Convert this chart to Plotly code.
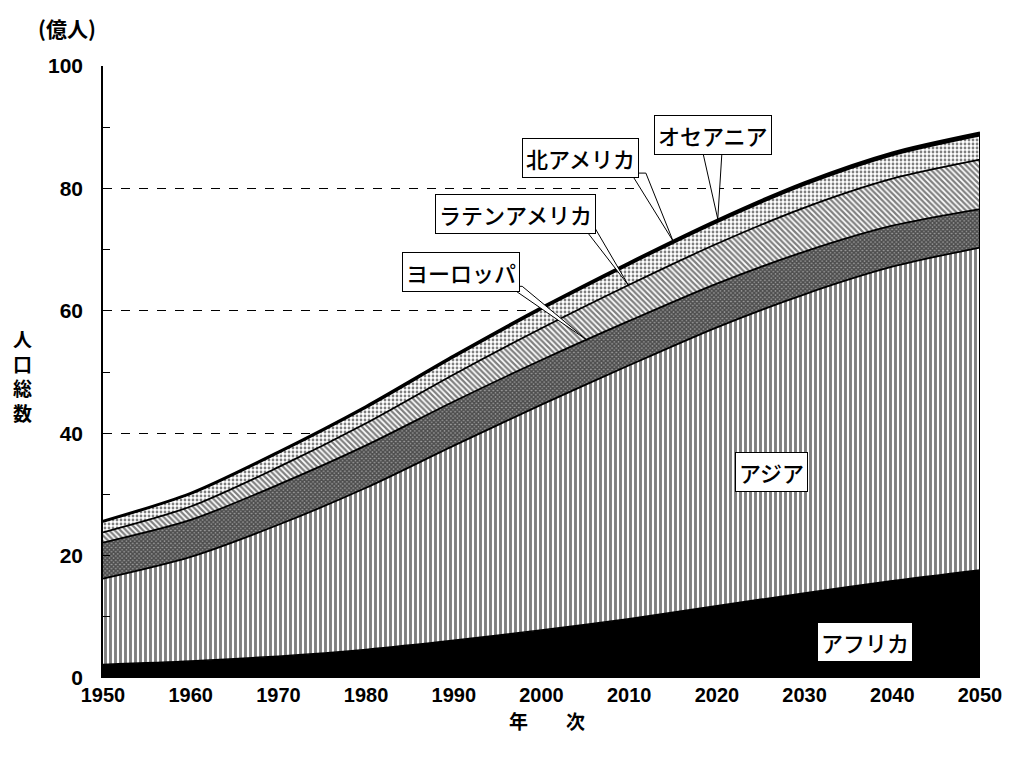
import plotly.graph_objects as go

years = [1950, 1960, 1970, 1980, 1990, 2000, 2010, 2020, 2030, 2040, 2050]
# population in 億人 (100 million)
africa = [2.21, 2.77, 3.57, 4.67, 6.15, 7.84, 9.7, 11.8, 13.9, 15.9, 17.66]
asia = [14.02, 17.02, 21.47, 26.41, 31.81, 36.83, 41.4, 45.5, 48.8, 51.3, 52.68]
europe = [5.9, 6.05, 6.56, 6.93, 7.22, 7.29, 7.25, 7.15, 6.97, 6.7, 6.28]
latin_america = [1.67, 2.18, 2.85, 3.61, 4.41, 5.19, 5.9, 6.5, 7.2, 7.7, 8.09]
north_america = [1.72, 2.04, 2.32, 2.55, 2.82, 3.10, 3.3, 3.5, 3.7, 3.8, 3.92]
oceania = [0.13, 0.16, 0.19, 0.23, 0.26, 0.30, 0.34, 0.37, 0.41, 0.44, 0.46]

y_ticks = [0, 20, 40, 60, 80, 100]
x_ticks = [1950, 1960, 1970, 1980, 1990, 2000, 2010, 2020, 2030, 2040, 2050]

JP = "Noto Sans CJK JP"
NUM = "Liberation Sans Narrow, Arial Narrow, Liberation Sans, Arial"

fig = go.Figure()

series = [
    ("アフリカ", africa, None, 1.5),
    ("アジア", asia, dict(shape="|", size=5, solidity=0.58), 1.8),
    ("ヨーロッパ", europe, dict(shape="x", size=3, solidity=0.75, bgcolor="#9a9a9a"), 1.8),
    ("ラテンアメリカ", latin_america, dict(shape="\\", size=4, solidity=0.55), 1.8),
    ("北アメリカ", north_america, dict(shape=".", size=4, solidity=0.38), 1.8),
    ("オセアニア", oceania, None, 2.5),
]
for name, vals, pat, lw in series:
    kw = dict(
        x=years, y=vals, name=name, mode="lines", stackgroup="pop",
        line=dict(color="black", width=lw, shape="spline", smoothing=0.8),
        hoverinfo="x+y+name",
    )
    if pat is None:
        kw["fillcolor"] = "black"
    else:
        p = dict(fgcolor="black", bgcolor="white")
        p.update(pat)
        kw["fillcolor"] = "white"
        kw["fillpattern"] = p
    fig.add_trace(go.Scatter(**kw))

total_end = africa[-1] + asia[-1] + europe[-1] + latin_america[-1] + north_america[-1] + oceania[-1]
fig.add_trace(go.Scatter(x=[years[-1], years[-1]], y=[0, total_end], mode="lines",
                         line=dict(color="black", width=2), hoverinfo="skip"))

# callout wedges (pointer shapes)
wedges = [
    # base-left, base-right, tip
    ((2018.3, 86.5), (2020.6, 86.5), (2020.1, 75.0)),
    ((2010.2, 82.5), (2011.9, 82.5), (2015.0, 71.4)),
    ((2004.6, 74.0), (2005.9, 74.0), (2009.9, 64.2)),
    ((1996.3, 64.0), (1997.8, 64.0), (2005.2, 55.2)),
]
for (a, b, c) in wedges:
    fig.add_shape(type="path",
                  path=f"M {a[0]},{a[1]} L {c[0]},{c[1]} L {b[0]},{b[1]} Z",
                  xref="x", yref="y", fillcolor="white",
                  line=dict(color="black", width=1), layer="above")

labels = [
    ("オセアニア", 2019.6, 88.7),
    ("北アメリカ", 2004.5, 85.0),
    ("ラテンアメリカ", 1997.0, 75.8),
    ("ヨーロッパ", 1990.8, 66.3),
    ("アジア", 2026.2, 33.7),
    ("アフリカ", 2036.9, 5.9),
]
for text, x, y in labels:
    fig.add_annotation(x=x, y=y, xref="x", yref="y", text=text, showarrow=False,
                       font=dict(family=JP, size=22, color="black", weight=500),
                       bgcolor="white", bordercolor="black", borderwidth=1, borderpad=3)

fig.add_annotation(text="(億人)", xref="paper", yref="paper", x=-0.076, y=1.062,
                   xanchor="left", yanchor="middle", showarrow=False,
                   font=dict(family=JP, size=21, color="black", weight="bold"))
fig.add_annotation(text="人<br>口<br>総<br>数", xref="paper", yref="paper", x=-0.092, y=0.495,
                   xanchor="center", yanchor="middle", showarrow=False,
                   font=dict(family=JP, size=19, color="black", weight="bold"))
fig.add_annotation(text="年　　次", xref="paper", yref="paper", x=0.506, y=-0.069,
                   xanchor="center", yanchor="middle", showarrow=False,
                   font=dict(family=JP, size=19, color="black", weight="bold"))

fig.update_layout(
    width=1012, height=759,
    margin=dict(l=95, r=40, t=58, b=89),
    paper_bgcolor="white", plot_bgcolor="white",
    showlegend=False,
    xaxis=dict(range=[1950, 2050], tickvals=x_ticks, ticktext=[str(v) for v in x_ticks],
               showgrid=False, zeroline=False, showline=False, ticks="",
               ticklabelstandoff=3,
               tickfont=dict(family=NUM, size=20, color="black", weight="bold")),
    yaxis=dict(range=[0, 100], tickvals=y_ticks, showgrid=True, gridcolor="black",
               griddash="dash", gridwidth=1, zeroline=False,
               showline=True, linecolor="black", linewidth=1.5,
               ticks="inside", ticklen=7, tickcolor="black",
               minor=dict(ticks="inside", dtick=10, ticklen=7, tickcolor="black", showgrid=False),
               ticklabelstandoff=14,
               tickfont=dict(family=NUM, size=21, color="black", weight="bold")),
)

fig.write_html("out.html")
